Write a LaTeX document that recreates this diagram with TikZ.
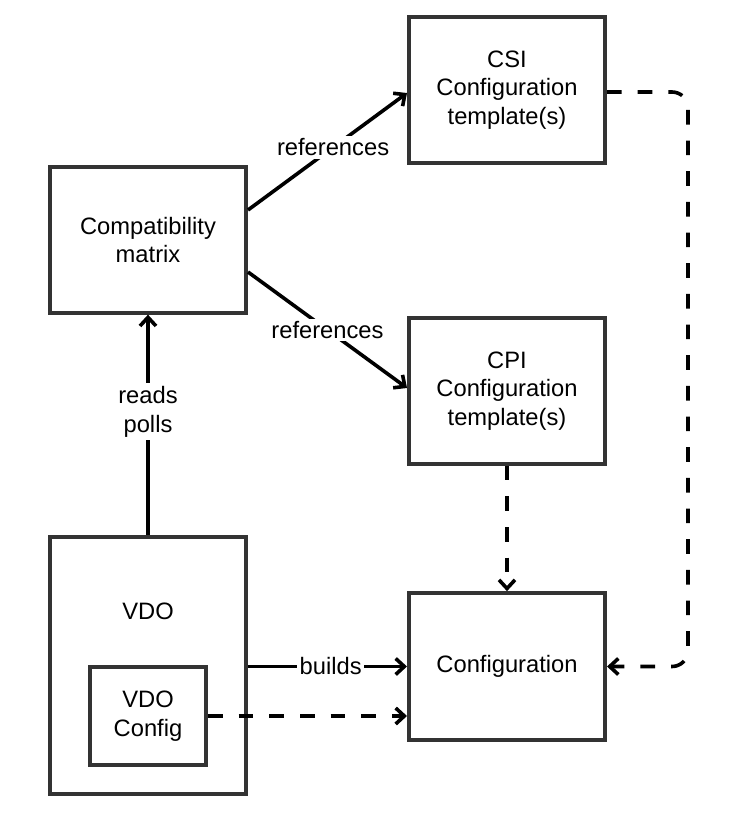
\documentclass[tikz,border=0pt]{standalone}
\usepackage{fontspec}
\setmainfont{Liberation Sans}
\usetikzlibrary{arrows.meta,calc}
\definecolor{boxline}{RGB}{51,51,51}
\tikzset{
  box/.style={draw=boxline, line width=3pt, fill=white, align=center, inner sep=0pt,
    font=\fontsize{17.8}{21.5}\selectfont},
  conn/.style={draw=black, line width=2.7pt, -{Straight Barb[length=6.5pt,width=12pt,line width=2.7pt]}},
  dconn/.style={conn, dash pattern=on 11pt off 12pt},
  lbl/.style={fill=white, inner sep=2pt, align=center, font=\fontsize{17.8}{21.5}\selectfont}
}
\begin{document}
\begin{tikzpicture}[x=0.75pt,y=-0.75pt]
\useasboundingbox (0,0) rectangle (746,814);
\node[box, minimum width=147pt, minimum height=110pt] (csi) at (507,90) {CSI\\Configuration\\template(s)};
\node[box, minimum width=147pt, minimum height=109pt] (compat) at (148,240) {Compatibility\\matrix};
\node[box, minimum width=147pt, minimum height=109pt] (cpi) at (507,391) {CPI\\Configuration\\template(s)};
\node[box, minimum width=147pt, minimum height=193pt] (vdo) at (148,665.5) {};
\node[font=\fontsize{17.8}{21.5}\selectfont] (vdolbl) at (148,611) {VDO};
\node[box, minimum width=87pt, minimum height=73pt] (vdoconf) at (148,716) {VDO\\Config};
\node[box, minimum width=147pt, minimum height=110pt] (conf) at (507,666.5) {Configuration};
\coordinate (rt) at (688,92);

\draw[conn] ($(compat.east)+(0,-30)$) -- node[lbl, pos=0.535] {references} ($(csi.west)+(0,3)$);
\draw[conn] ($(compat.east)+(0,32)$) -- node[lbl, pos=0.5] {references} ($(cpi.west)+(0,-3)$);
\draw[conn] (vdo.north) -- node[lbl, pos=0.56] {reads\\polls} (compat.south);
\draw[conn] (vdo.east |- conf.west) -- node[lbl, pos=0.52] {builds} (conf.west);
\draw[dconn] (vdoconf.east) -- (conf.west |- vdoconf.east);
\draw[dconn] (cpi.south) -- (conf.north);
\draw[dconn, rounded corners=12pt] (csi.east |- rt) -- (rt) |- (conf.east);
\end{tikzpicture}
\end{document}
